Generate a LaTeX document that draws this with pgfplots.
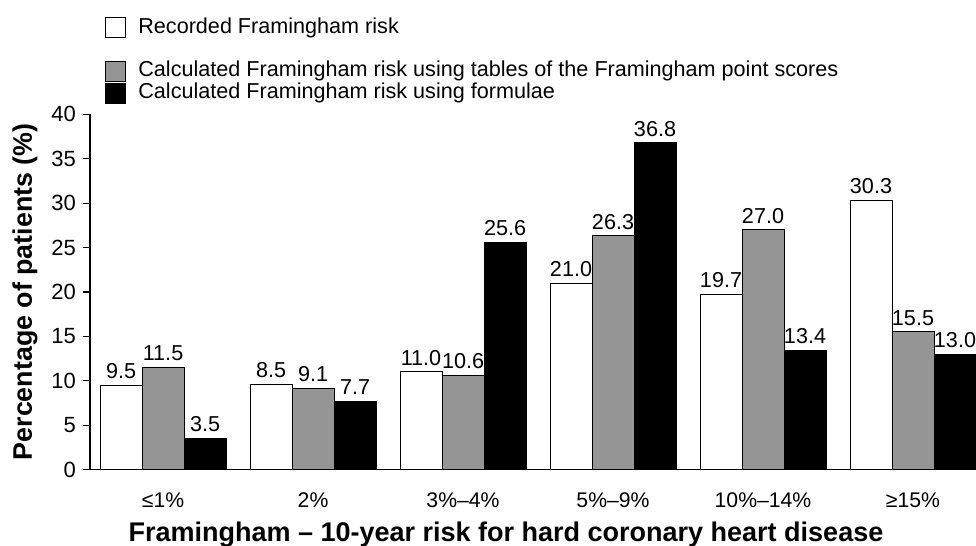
\documentclass[border=0pt]{standalone}
\usepackage{fontspec}
\setmainfont{Liberation Sans}
\usepackage{pgfplots}
\pgfplotsset{compat=1.18}
\definecolor{barGray}{HTML}{959595}
\begin{document}
\begin{tikzpicture}
\begin{axis}[
  at={(0,0)}, anchor=south west,
  scale only axis,
  width=443pt, height=177.6pt,
  xmin=-0.487, xmax=5.42,
  ymin=0, ymax=40,
  ybar, bar width=21pt,
  axis x line=bottom, axis y line=left,
  axis line style={line width=0.6pt, -},
  clip=false,
  ytick={0,5,...,40},
  xtick={0,1,2,3,4,5},
  xticklabels={≤1\%,2\%,3\%–4\%,5\%–9\%,10\%–14\%,≥15\%},
  xtick style={draw=none},
  extra x ticks={1.5,2.5,3.5,4.5},
  extra x tick labels={},
  extra x tick style={major tick length=3.5pt, tick style={draw=black, line width=0.6pt}},
  tick align=outside,
  major tick length=3.5pt,
  tick style={line width=0.6pt, black},
  /pgf/number format/assume math mode=true,
  yticklabel style={font=\fontsize{11}{13}\selectfont},
  xticklabel style={yshift=-4.5pt, font=\fontsize{10.6}{13}\selectfont},
  xlabel={Framingham – 10-year risk for hard coronary heart disease},
  ylabel={Percentage of patients (\%)},
  x label style={at={(axis description cs:0.4695,0)}, anchor=north, yshift=-22.5pt, font=\bfseries\fontsize{13.5}{16}\selectfont},
  y label style={at={(axis description cs:-0.0512,0.5)}, rotate=0, anchor=south, font=\bfseries\fontsize{13.4}{16}\selectfont},
  point meta=explicit symbolic,
  nodes near coords,
  every node near coord/.append style={font=\fontsize{10.8}{13}\selectfont, inner sep=3pt},
  legend style={at={(axis description cs:0.0169,1.275)}, anchor=north west, draw=none, fill=none,
    inner sep=0pt, column sep=6pt, font=\fontsize{10.8}{13}\selectfont,
    nodes={inner xsep=0pt, inner ysep=0.4pt, text height=7.6pt, text depth=2.5pt}},
  legend cell align=left,
  legend image code/.code={\draw[#1, line width=0.5pt] (0pt,-5pt) rectangle (10pt,5pt);},
]
\addplot[fill=white, draw=black, line width=0.5pt, bar shift=-21pt] coordinates {
  (0,9.5) [9.5] (1,9.6) [8.5] (2,11.0) [11.0] (3,21.0) [21.0] (4,19.7) [19.7] (5,30.3) [30.3]};
\addlegendentry{Recorded Framingham risk}
\addlegendimage{empty legend}
\addlegendentry{}
\addplot[fill=barGray, draw=black, line width=0.5pt, bar shift=0pt] coordinates {
  (0,11.5) [11.5] (1,9.1) [9.1] (2,10.6) [10.6] (3,26.3) [26.3] (4,27.0) [27.0] (5,15.5) [15.5]};
\addlegendentry{Calculated Framingham risk using tables of the Framingham point scores}
\addplot[fill=black, draw=black, line width=0.5pt, bar shift=21pt] coordinates {
  (0,3.5) [3.5] (1,7.7) [7.7] (2,25.6) [25.6] (3,36.8) [36.8] (4,13.4) [13.4] (5,13.0) [13.0]};
\addlegendentry{Calculated Framingham risk using formulae}
\end{axis}
\pgfresetboundingbox
\useasboundingbox (-45pt,-38.25pt) rectangle (443pt,234.75pt);
\end{tikzpicture}
\end{document}
